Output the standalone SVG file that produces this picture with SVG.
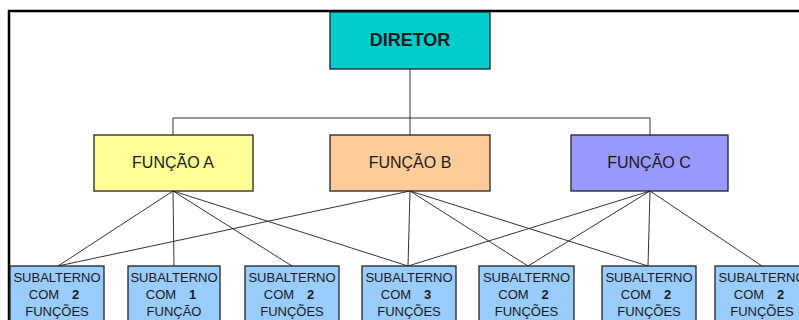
<svg xmlns="http://www.w3.org/2000/svg" width="799" height="320" viewBox="0 0 799 320">
  <style>
    .box { stroke: #222; stroke-width: 1.3; }
    .dir { fill: #00CCCC; }
    .fa { fill: #FFFF99; }
    .fb { fill: #FFCC99; }
    .fc { fill: #9999FF; }
    .sub { fill: #99CCFF; }
    .lbl { font-family: "Liberation Sans", Arial, sans-serif; fill: #1a1a1a; text-anchor: middle; }
    .big { font-size: 18px; font-weight: bold; }
    .fn { font-size: 16px; }
    .sm { font-size: 13px; }
    .num { font-weight: bold; }
    .wire { stroke: #333; stroke-width: 1; fill: none; }
  </style>

  <!-- outer frame -->
  <path d="M9,330 V11 H812" fill="none" stroke="#000" stroke-width="2.5"/>

  <!-- connectors -->
  <g id="connectors" class="wire">
    <!-- director to functions -->
    <path d="M410,69 V118 M173,118 H650 M173,118 V135 M410,118 V135 M650,118 V135"/>
    <!-- function A -->
    <path d="M173,191 L58,266 M173,191 L174,266 M173,191 L292,266 M173,191 L408,266"/>
    <!-- function B -->
    <path d="M410,191 L58,266 M410,191 L408,266 M410,191 L528,266 M410,191 L648,266"/>
    <!-- function C -->
    <path d="M650,191 L408,266 M650,191 L528,266 M650,191 L648,266 M650,191 L762,266"/>
  </g>

  <g id="diretor">
    <rect class="box dir" x="330" y="12" width="160" height="57"/>
    <text class="lbl big" x="410" y="46">DIRETOR</text>
  </g>

  <g id="funcao-a">
    <rect class="box fa" x="94" y="135" width="159" height="56"/>
    <text class="lbl fn" x="173" y="168">FUNÇÃO A</text>
  </g>
  <g id="funcao-b">
    <rect class="box fb" x="330" y="135" width="160" height="56"/>
    <text class="lbl fn" x="410" y="168">FUNÇÃO B</text>
  </g>
  <g id="funcao-c">
    <rect class="box fc" x="571" y="135" width="157" height="56"/>
    <text class="lbl fn" x="649" y="168">FUNÇÃO C</text>
  </g>

  <g id="sub-1">
    <rect class="box sub" x="10" y="266" width="94" height="70"/>
    <text class="lbl sm" x="57" y="282">SUBALTERNO</text>
    <text class="lbl sm" x="44" y="299">COM</text>
    <text class="lbl sm num" x="75.5" y="299">2</text>
    <text class="lbl sm" x="57" y="316">FUNÇÕES</text>
  </g>
  <g id="sub-2">
    <rect class="box sub" x="128" y="266" width="92" height="70"/>
    <text class="lbl sm" x="174" y="282">SUBALTERNO</text>
    <text class="lbl sm" x="161" y="299">COM</text>
    <text class="lbl sm num" x="192.5" y="299">1</text>
    <text class="lbl sm" x="174" y="316">FUNÇÃO</text>
  </g>
  <g id="sub-3">
    <rect class="box sub" x="245" y="266" width="94" height="70"/>
    <text class="lbl sm" x="292" y="282">SUBALTERNO</text>
    <text class="lbl sm" x="279" y="299">COM</text>
    <text class="lbl sm num" x="310.5" y="299">2</text>
    <text class="lbl sm" x="292" y="316">FUNÇÕES</text>
  </g>
  <g id="sub-4">
    <rect class="box sub" x="362" y="266" width="94" height="70"/>
    <text class="lbl sm" x="409" y="282">SUBALTERNO</text>
    <text class="lbl sm" x="396" y="299">COM</text>
    <text class="lbl sm num" x="427.5" y="299">3</text>
    <text class="lbl sm" x="409" y="316">FUNÇÕES</text>
  </g>
  <g id="sub-5">
    <rect class="box sub" x="479" y="266" width="95" height="70"/>
    <text class="lbl sm" x="526.5" y="282">SUBALTERNO</text>
    <text class="lbl sm" x="513.5" y="299">COM</text>
    <text class="lbl sm num" x="545" y="299">2</text>
    <text class="lbl sm" x="526.5" y="316">FUNÇÕES</text>
  </g>
  <g id="sub-6">
    <rect class="box sub" x="602" y="266" width="94" height="70"/>
    <text class="lbl sm" x="649" y="282">SUBALTERNO</text>
    <text class="lbl sm" x="636" y="299">COM</text>
    <text class="lbl sm num" x="667.5" y="299">2</text>
    <text class="lbl sm" x="649" y="316">FUNÇÕES</text>
  </g>
  <g id="sub-7">
    <rect class="box sub" x="715" y="266" width="95" height="70"/>
    <text class="lbl sm" x="762" y="282">SUBALTERNO</text>
    <text class="lbl sm" x="749" y="299">COM</text>
    <text class="lbl sm num" x="780.5" y="299">2</text>
    <text class="lbl sm" x="762" y="316">FUNÇÕES</text>
  </g>
</svg>
